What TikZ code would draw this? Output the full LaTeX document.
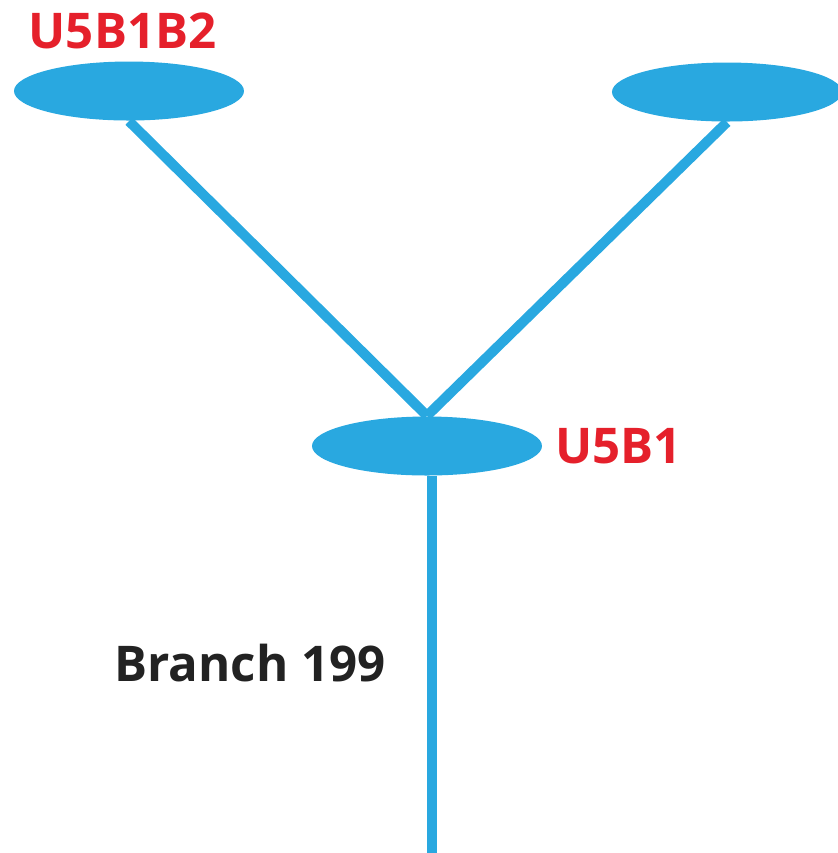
\documentclass[tikz,border=0pt]{standalone}
\usepackage{fontspec}
\setmainfont{Open Sans}
\usepackage{tikz}
\usetikzlibrary{shapes.geometric, positioning, calc}

\definecolor{branchblue}{HTML}{29A8E0}
\definecolor{labelred}{HTML}{E5202B}
\definecolor{textdark}{HTML}{222222}

\begin{document}
\begin{tikzpicture}[
  every node/.style={font=\fontsize{14}{16}\selectfont\bfseries},
  junction/.style={ellipse, fill=branchblue, minimum width=2.3cm, minimum height=0.59cm, inner sep=0pt},
  pipe/.style={draw=branchblue, line width=0.1cm},
  redlabel/.style={text=labelred, inner sep=0pt},
  darklabel/.style={text=textdark, inner sep=0pt}
]
\useasboundingbox (0,0) rectangle (8.38,-8.53);
\clip (0,0) rectangle (8.38,-8.53);

% Junctions
\node[junction] (leafL) at (1.29,-0.91) {};
\node[junction] (leafR) at (7.27,-0.92) {};
\node[junction] (fork) at (4.27,-4.46) {};
\coordinate (stem) at (4.32,-8.53);

% Pipes
\draw[pipe] (leafL.south) -- (fork.north);
\draw[pipe] (leafR.south) -- (fork.north);
\draw[pipe] (fork.south -| stem) -- (stem);

% Labels
\node[redlabel] (lblL) at (1.225,-0.305) {U5B1B2};
\node[redlabel, right=0.12cm of fork] (lblF) {U5B1};
\node[darklabel] (lblB) at (2.50,-6.63) {Branch 199};

\end{tikzpicture}
\end{document}
